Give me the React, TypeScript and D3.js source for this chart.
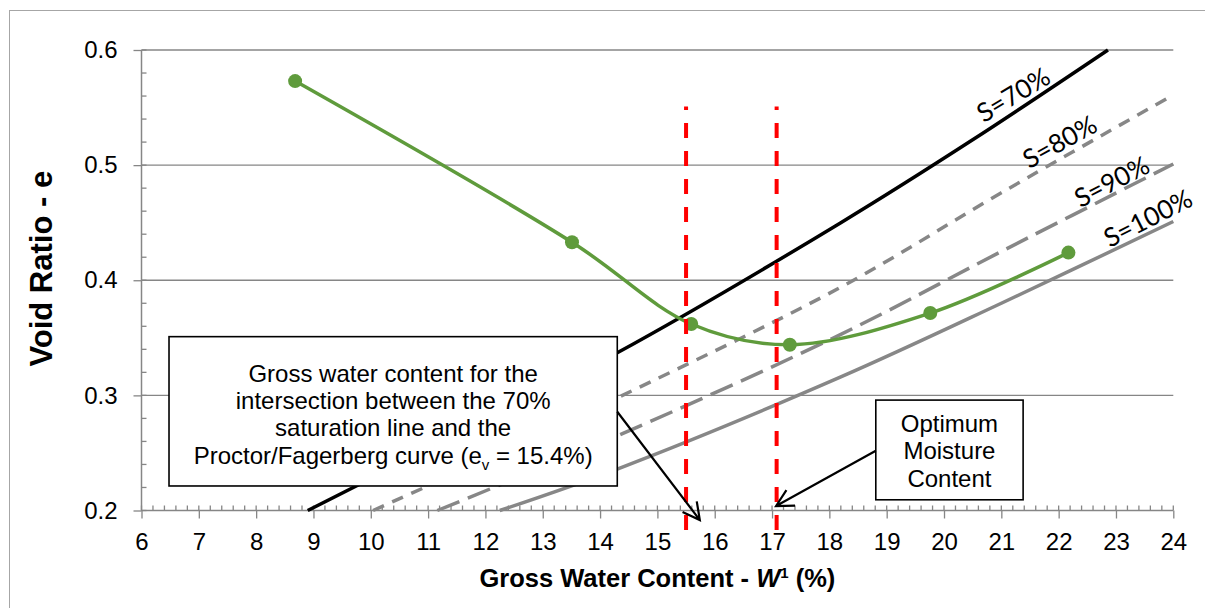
import React, { useEffect, useRef } from 'react';
import * as d3 from 'd3';

// Proctor / Fagerberg curve (gross water content %, void ratio)
const proctorW = [8.68, 13.51, 15.59, 17.31, 19.76, 22.17];
const proctorE = [0.573, 0.433, 0.362, 0.344, 0.3715, 0.424];

// saturation lines
const s70 = [[8.9, 0.2], [11, 0.253], [14.3, 0.337], [18.2, 0.45], [20.5, 0.522], [22.86, 0.6]];
const s80 = [[10.04, 0.2], [12, 0.244], [14.35, 0.299], [18.2, 0.394], [21, 0.476], [24, 0.561]];
const s90 = [[11.16, 0.2], [14.4, 0.267], [18.2, 0.353], [21, 0.425], [24, 0.501]];
const s100 = [[12.25, 0.2], [14.3, 0.236], [18.2, 0.316], [21, 0.38], [24, 0.451]];

const satLabels = ['S=70%', 'S=80%', 'S=90%', 'S=100%'];
const satLabelPos = [[21.21, 0.561, -31], [22.02, 0.5203, -29], [22.93, 0.4856, -27.5], [23.56, 0.4538, -27]];

// vertical markers
const markerW = [15.5, 17.08];
const markerE = [0.183, 0.551];

const xTicks = d3.range(6, 25, 1);
const yTicks = [0.2, 0.3, 0.4, 0.5, 0.6];

const box1Lines = ['Gross water content for the', 'intersection between the 70%', 'saturation line and the'];
const box2Lines = ['Optimum', 'Moisture', 'Content'];

export default function App() {
  const ref = useRef<SVGSVGElement>(null);

  useEffect(() => {
    if (!ref.current) return;
    const svg = d3.select(ref.current);
    svg.selectAll('*').remove();

    const x = d3.scaleLinear().domain([6, 24]).range([141.5, 1173.3]);
    const y = d3.scaleLinear().domain([0.2, 0.6]).range([510.5, 50]);
    const axisColor = '#868686';
    const font = '"Liberation Sans", Arial, sans-serif';

    // outer chart border
    svg.append('rect')
      .attr('x', 9.5).attr('y', 10.5).attr('width', 1400).attr('height', 800)
      .attr('fill', 'white').attr('stroke', '#a6a6a6').attr('stroke-width', 1);

    // gridlines
    svg.append('g').selectAll('line')
      .data(yTicks.slice(1)).enter().append('line')
      .attr('x1', x(6)).attr('x2', x(24))
      .attr('y1', d => y(d)).attr('y2', d => y(d))
      .attr('stroke', axisColor).attr('stroke-width', 1.3);

    // minor ticks
    const xMinor = d3.range(6, 24.001, 0.2);
    svg.append('g').selectAll('line')
      .data(xMinor).enter().append('line')
      .attr('x1', d => x(d)).attr('x2', d => x(d))
      .attr('y1', y(0.2) - 5).attr('y2', y(0.2))
      .attr('stroke', axisColor).attr('stroke-width', 1.3);
    const yMinor = d3.range(0.2, 0.6001, 0.02);
    svg.append('g').selectAll('line')
      .data(yMinor).enter().append('line')
      .attr('x1', x(6)).attr('x2', x(6) + 5)
      .attr('y1', d => y(d)).attr('y2', d => y(d))
      .attr('stroke', axisColor).attr('stroke-width', 1.3);

    // axes
    const xAxis = svg.append('g')
      .attr('transform', `translate(0,${y(0.2)})`)
      .call(d3.axisBottom(x).tickValues(xTicks).tickFormat(d3.format('d')).tickSize(8).tickPadding(14));
    const yAxis = svg.append('g')
      .attr('transform', `translate(${x(6)},0)`)
      .call(d3.axisLeft(y).tickValues(yTicks).tickFormat(d3.format('.1f')).tickSize(8).tickPadding(16));
    [xAxis, yAxis].forEach(g => {
      g.select('.domain').attr('stroke', axisColor).attr('stroke-width', 1.5);
      g.selectAll('.tick line').attr('stroke', axisColor).attr('stroke-width', 1.3);
      g.selectAll('.tick text').attr('fill', '#000').attr('font-size', 24).attr('font-family', font);
    });
    xAxis.select('.domain').attr('d', `M${x(6)},0H${x(24)}`);
    yAxis.select('.domain').attr('d', `M0,${y(0.2)}V${y(0.6)}`);

    // saturation lines
    const satLine = d3.line<number[]>().x(d => x(d[0])).y(d => y(d[1])).curve(d3.curveCatmullRom.alpha(0.5));
    const sats = [
      { data: s100, color: '#878787', dash: null },
      { data: s90, color: '#878787', dash: '24,9' },
      { data: s80, color: '#878787', dash: '12,9' },
      { data: s70, color: '#000000', dash: null },
    ];
    sats.forEach(s => {
      svg.append('path')
        .datum(s.data)
        .attr('d', satLine)
        .attr('fill', 'none')
        .attr('stroke', s.color)
        .attr('stroke-width', 3.5)
        .attr('stroke-dasharray', s.dash);
    });

    satLabels.forEach((t, i) => {
      const [w, e, a] = satLabelPos[i];
      svg.append('text')
        .attr('transform', `translate(${x(w)},${y(e)}) rotate(${a})`)
        .attr('text-anchor', 'middle')
        .attr('dy', '0.35em')
        .attr('font-family', 'Lato, "Open Sans", sans-serif')
        .attr('font-size', 26)
        .attr('fill', '#000')
        .text(t);
    });

    // proctor curve
    const pts = proctorW.map((w, i) => [w, proctorE[i]]);
    const green = '#5f9b3c';
    svg.append('path')
      .datum(pts)
      .attr('d', d3.line<number[]>().x(d => x(d[0])).y(d => y(d[1])).curve(d3.curveCatmullRom.alpha(0.5)))
      .attr('fill', 'none')
      .attr('stroke', green)
      .attr('stroke-width', 3.5);
    svg.append('g').selectAll('circle')
      .data(pts).enter().append('circle')
      .attr('cx', d => x(d[0])).attr('cy', d => y(d[1]))
      .attr('r', 7).attr('fill', green);

    // red dashed markers
    markerW.forEach(w => {
      svg.append('line')
        .attr('x1', x(w)).attr('x2', x(w))
        .attr('y1', y(markerE[0])).attr('y2', y(markerE[1]))
        .attr('stroke', '#ff0000').attr('stroke-width', 4)
        .attr('stroke-dasharray', '15,13');
    });

    // annotation boxes
    const drawBox = (w0: number, e0: number, w1: number, e1: number) =>
      svg.append('rect')
        .attr('x', x(w0)).attr('y', y(e0))
        .attr('width', x(w1) - x(w0)).attr('height', y(e1) - y(e0))
        .attr('fill', 'white').attr('stroke', '#000').attr('stroke-width', 1.6);

    drawBox(6.48, 0.351, 14.3, 0.2213);
    drawBox(18.81, 0.2959, 21.38, 0.2093);

    const cx1 = (x(6.48) + x(14.3)) / 2;
    const t1 = svg.append('text')
      .attr('font-family', font).attr('font-size', 24).attr('fill', '#000')
      .attr('text-anchor', 'middle');
    box1Lines.forEach((l, i) => {
      t1.append('tspan').attr('x', cx1).attr('y', 381.5 + i * 27.4).text(l);
    });
    const last = t1.append('tspan').attr('x', cx1).attr('y', 381.5 + 3 * 27.4);
    last.append('tspan').text('Proctor/Fagerberg curve (e');
    last.append('tspan').attr('font-size', 15).attr('dy', 6).text('v');
    last.append('tspan').attr('dy', -6).text(' = 15.4%)');

    const cx2 = (x(18.81) + x(21.38)) / 2;
    const t2 = svg.append('text')
      .attr('font-family', font).attr('font-size', 24).attr('fill', '#000')
      .attr('text-anchor', 'middle');
    box2Lines.forEach((l, i) => {
      t2.append('tspan').attr('x', cx2).attr('y', 431.5 + i * 27.6).text(l);
    });

    // arrows
    const arrow = (w0: number, e0: number, w1: number, e1: number) => {
      const x0 = x(w0), y0 = y(e0), x1 = x(w1), y1 = y(e1);
      const ang = Math.atan2(y0 - y1, x0 - x1);
      const len = 19, spread = (28 * Math.PI) / 180;
      const a1 = [x1 + len * Math.cos(ang + spread), y1 + len * Math.sin(ang + spread)];
      const a2 = [x1 + len * Math.cos(ang - spread), y1 + len * Math.sin(ang - spread)];
      svg.append('path')
        .attr('d', `M${x0},${y0}L${x1},${y1}M${a1[0]},${a1[1]}L${x1},${y1}L${a2[0]},${a2[1]}`)
        .attr('fill', 'none').attr('stroke', '#000').attr('stroke-width', 2.2);
    };
    arrow(14.3, 0.2858, 15.74, 0.1917);
    arrow(18.81, 0.2519, 17.07, 0.2039);

    // axis titles
    svg.append('text')
      .attr('x', (x(6) + x(24)) / 2).attr('y', 587)
      .attr('text-anchor', 'middle')
      .attr('font-family', font).attr('font-size', 25.5).attr('font-weight', 'bold')
      .call(t => {
        t.append('tspan').text('Gross Water Content - ');
        t.append('tspan').attr('font-style', 'italic').text('W');
        t.append('tspan').attr('font-size', 15).attr('dy', -9).text('1');
        t.append('tspan').attr('dy', 9).text(' (%)');
      });
    svg.append('text')
      .attr('transform', `translate(52,${y(0.41)}) rotate(-90)`)
      .attr('text-anchor', 'middle')
      .attr('font-family', font).attr('font-size', 31).attr('font-weight', 'bold')
      .text('Void Ratio - e');
  }, []);

  return (
    <svg ref={ref} width={1205} height={608}
      style={{ position: 'absolute', left: 0, top: 0, background: 'white' }} />
  );
}
